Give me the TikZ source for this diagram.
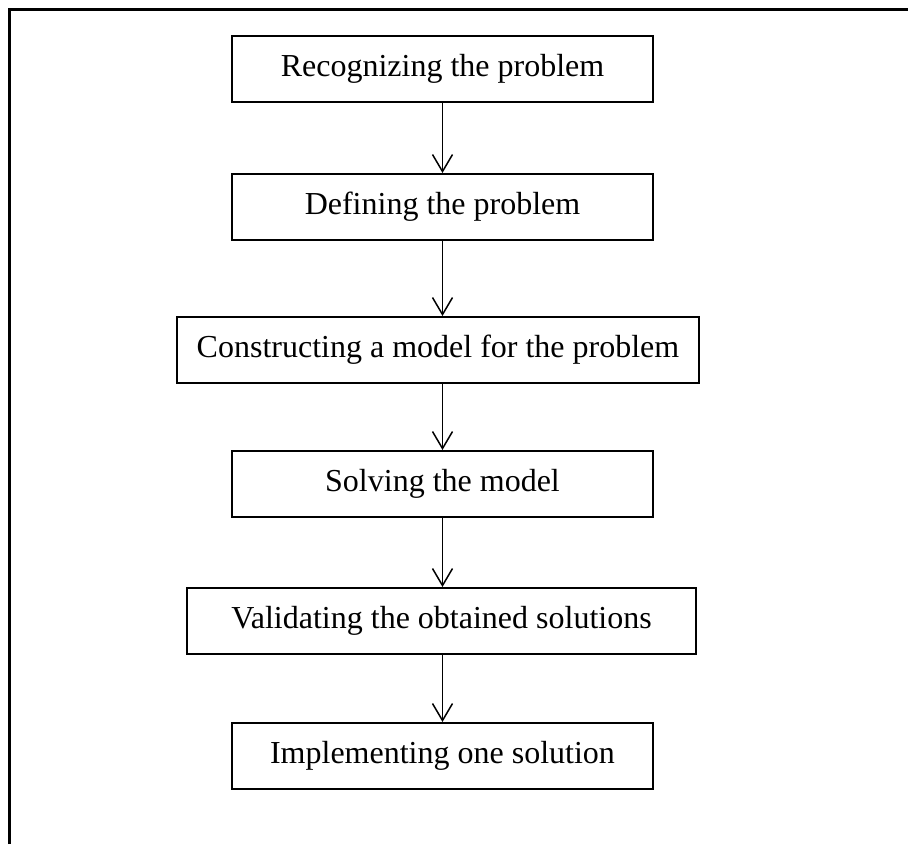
\documentclass[tikz,border=0pt]{standalone}
\usepackage{fontspec}
\setmainfont{Liberation Serif}
\usetikzlibrary{arrows.meta}
\tikzset{
  stage/.style={draw, line width=2pt, inner sep=0pt, minimum height=66pt, font=\fontsize{32}{38}\selectfont},
  flow/.style={-{Straight Barb[length=17pt, width=20pt]}, line width=1.5pt}
}
\begin{document}
\begin{tikzpicture}[x=1pt, y=-1pt]
            \useasboundingbox (0, 0) rectangle (908, 844);
            \draw[line width=3pt] (9, 844) -- (9, 9) -- (908, 9);
            \node[stage, minimum width=421pt] (recog) at (442.5, 68.5) {Recognizing the problem};
            \node[stage, minimum width=421pt] (define) at (442.5, 207) {Defining the problem};
            \node[stage, minimum width=522pt] (model) at (438, 350) {Constructing a model for the problem};
            \node[stage, minimum width=421pt] (solve) at (442.5, 484) {Solving the model};
            \node[stage, minimum width=509pt] (valid) at (441.5, 621) {Validating the obtained solutions};
            \node[stage, minimum width=421pt] (impl) at (442.5, 756) {Implementing one solution};
            \draw[flow] (recog.south) -- (define.north);
            \draw[flow] (define.south) -- (define.south |- model.north);
            \draw[flow] (model.south -| define.south) -- (solve.north);
            \draw[flow] (solve.south) -- (solve.south |- valid.north);
            \draw[flow] (valid.south -| solve.south) -- (impl.north);
        \end{tikzpicture}
\end{document}
